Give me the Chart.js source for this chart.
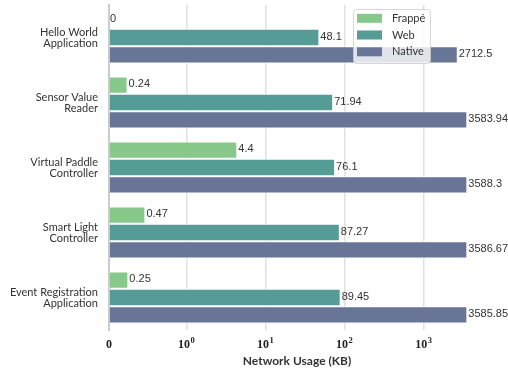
<!DOCTYPE html>
<html>
<head>
<meta charset="utf-8">
<script src="https://cdn.jsdelivr.net/npm/chart.js@4/dist/chart.umd.min.js"></script>
<style>
  html, body { margin: 0; padding: 0; background: #ffffff; }
  #wrap { width: 508px; height: 372px; }
</style>
</head>
<body>
<div id="wrap"><canvas id="c" width="508" height="372"></canvas></div>
<script>
// Applications on the category axis (two-line labels)
const categories = [
  ['Hello World', 'Application'],
  ['Sensor Value', 'Reader'],
  ['Virtual Paddle', 'Controller'],
  ['Smart Light', 'Controller'],
  ['Event Registration', 'Application']
];

// Series names and network usage per application, in KB
const seriesNames = ['Frappé', 'Web', 'Native'];
const frappeUsage = [0, 0.24, 4.4, 0.47, 0.25];
const webUsage = [48.1, 71.94, 76.1, 87.27, 89.45];
const nativeUsage = [2712.5, 3583.94, 3588.3, 3586.67, 3585.85];

// Tick positions on the usage axis, with their base and exponent text
const xTickValues = [0, 1, 10, 100, 1000];
const xTickBase = ['0', '10', '10', '10', '10'];
const xTickExp = ['', '0', '1', '2', '3'];

const seriesColors = ['#86c98a', '#569c96', '#687597'];

// Symmetric log transform: linear between 0 and 1, logarithmic above
const LIN_WIDTH = 0.98;
function symFwd(v) { return v <= 1 ? v * LIN_WIDTH : LIN_WIDTH + Math.log10(v); }
function symInv(t) { return t <= LIN_WIDTH ? t / LIN_WIDTH : Math.pow(10, t - LIN_WIDTH); }

class SymLogScale extends Chart.LinearScale {
  buildTicks() {
    return xTickValues.map(v => ({ value: v }));
  }
  configure() {
    super.configure();
    this._t0 = symFwd(this.min);
    this._t1 = symFwd(this.max);
  }
  getPixelForValue(v) {
    return this.getPixelForDecimal((symFwd(v) - this._t0) / (this._t1 - this._t0));
  }
  getValueForPixel(p) {
    return symInv(this._t0 + this.getDecimalForPixel(p) * (this._t1 - this._t0));
  }
}
SymLogScale.id = 'symlog';
SymLogScale.defaults = Chart.LinearScale.defaults;
Chart.register(SymLogScale);

// Value text at the end of every bar
const valueLabels = {
  id: 'valueLabels',
  afterDatasetsDraw(chart) {
    const ctx = chart.ctx;
    ctx.save();
    ctx.font = '11px "Liberation Sans", Arial, sans-serif';
    ctx.fillStyle = '#333333';
    ctx.textAlign = 'left';
    ctx.textBaseline = 'middle';
    chart.data.datasets.forEach((ds, di) => {
      const meta = chart.getDatasetMeta(di);
      meta.data.forEach((bar, i) => {
        ctx.fillText(String(ds.data[i]), bar.x + 1, bar.y - 1);
      });
    });
    ctx.restore();
  }
};

// Usage axis tick text with raised exponents
const powerTicks = {
  id: 'powerTicks',
  afterDraw(chart) {
    const ctx = chart.ctx;
    const xs = chart.scales.x;
    const y = chart.chartArea.bottom + 15;
    ctx.save();
    ctx.fillStyle = '#222222';
    ctx.textBaseline = 'middle';
    xTickValues.forEach((v, i) => {
      const px = xs.getPixelForValue(v);
      ctx.font = 'bold 12px "Liberation Serif", "DejaVu Serif", serif';
      const bw = ctx.measureText(xTickBase[i]).width;
      ctx.font = 'bold 8.5px "Liberation Serif", "DejaVu Serif", serif';
      const ew = xTickExp[i] ? ctx.measureText(xTickExp[i]).width + 0.5 : 0;
      const start = px - (bw + ew) / 2;
      ctx.textAlign = 'left';
      ctx.font = 'bold 12px "Liberation Serif", "DejaVu Serif", serif';
      ctx.fillText(xTickBase[i], start, y);
      if (xTickExp[i]) {
        ctx.font = 'bold 8.5px "Liberation Serif", "DejaVu Serif", serif';
        ctx.fillText(xTickExp[i], start + bw + 0.5, y - 4);
      }
    });
    ctx.restore();
  }
};

// Legend box in the upper right of the plot
const boxLegend = {
  id: 'boxLegend',
  afterDraw(chart) {
    const ctx = chart.ctx;
    const bx = 353, by = 9, bw = 77, bh = 54;
    ctx.save();
    ctx.beginPath();
    ctx.roundRect(bx + 0.5, by + 0.5, bw, bh, 3);
    ctx.fillStyle = 'rgba(255,255,255,0.8)';
    ctx.fill();
    ctx.strokeStyle = 'rgba(204,204,204,0.8)';
    ctx.lineWidth = 1;
    ctx.stroke();
    const rows = [18.3, 35, 51.8];
    ctx.font = '11px Lato, "Open Sans", sans-serif';
    ctx.textAlign = 'left';
    ctx.textBaseline = 'middle';
    seriesNames.forEach((name, i) => {
      ctx.fillStyle = seriesColors[i];
      ctx.fillRect(bx + 4, rows[i] - 4.5, 25, 9);
      ctx.fillStyle = '#333333';
      ctx.fillText(name, bx + 39, rows[i]);
    });
    ctx.restore();
  }
};

const seriesData = [frappeUsage, webUsage, nativeUsage];

new Chart(document.getElementById('c'), {
  type: 'bar',
  data: {
    labels: categories,
    datasets: seriesNames.map((name, i) => ({
      label: name,
      data: seriesData[i],
      backgroundColor: seriesColors[i],
      borderColor: '#ffffff',
      borderWidth: 1,
      categoryPercentage: 0.8,
      barPercentage: 1.0
    }))
  },
  options: {
    indexAxis: 'y',
    responsive: false,
    animation: false,
    layout: { padding: { left: 0, right: 23, top: 5, bottom: 0 } },
    plugins: {
      legend: { display: false },
      tooltip: { enabled: false },
      title: { display: false }
    },
    scales: {
      x: {
        type: 'symlog',
        min: 0,
        max: 6000,
        grid: {
          color: ctx => (ctx.tick && ctx.tick.value === 0) ? 'rgba(0,0,0,0)' : '#e0e0e0',
          lineWidth: 1.5,
          drawTicks: false
        },
        border: { display: false },
        ticks: { display: false },
        title: {
          display: true,
          text: 'Network Usage (KB)',
          color: '#333333',
          font: { family: 'Lato, "Open Sans", sans-serif', size: 12, weight: 'bold' },
          padding: { top: 0, bottom: 4 }
        },
        afterFit(scale) {
          scale.height = 42;
          scale.paddingLeft = 0;
          scale.paddingRight = 0;
        }
      },
      y: {
        type: 'category',
        grid: { display: false, drawTicks: false },
        border: { display: true, color: '#cccccc', width: 2 },
        ticks: {
          color: '#333333',
          padding: 11,
          font: { family: 'Lato, "Open Sans", sans-serif', size: 11, lineHeight: 1.0 }
        },
        afterFit(scale) {
          scale.width = 109;
          scale.paddingTop = 0;
          scale.paddingBottom = 0;
        }
      }
    }
  },
  plugins: [valueLabels, powerTicks, boxLegend]
});
</script>
</body>
</html>
